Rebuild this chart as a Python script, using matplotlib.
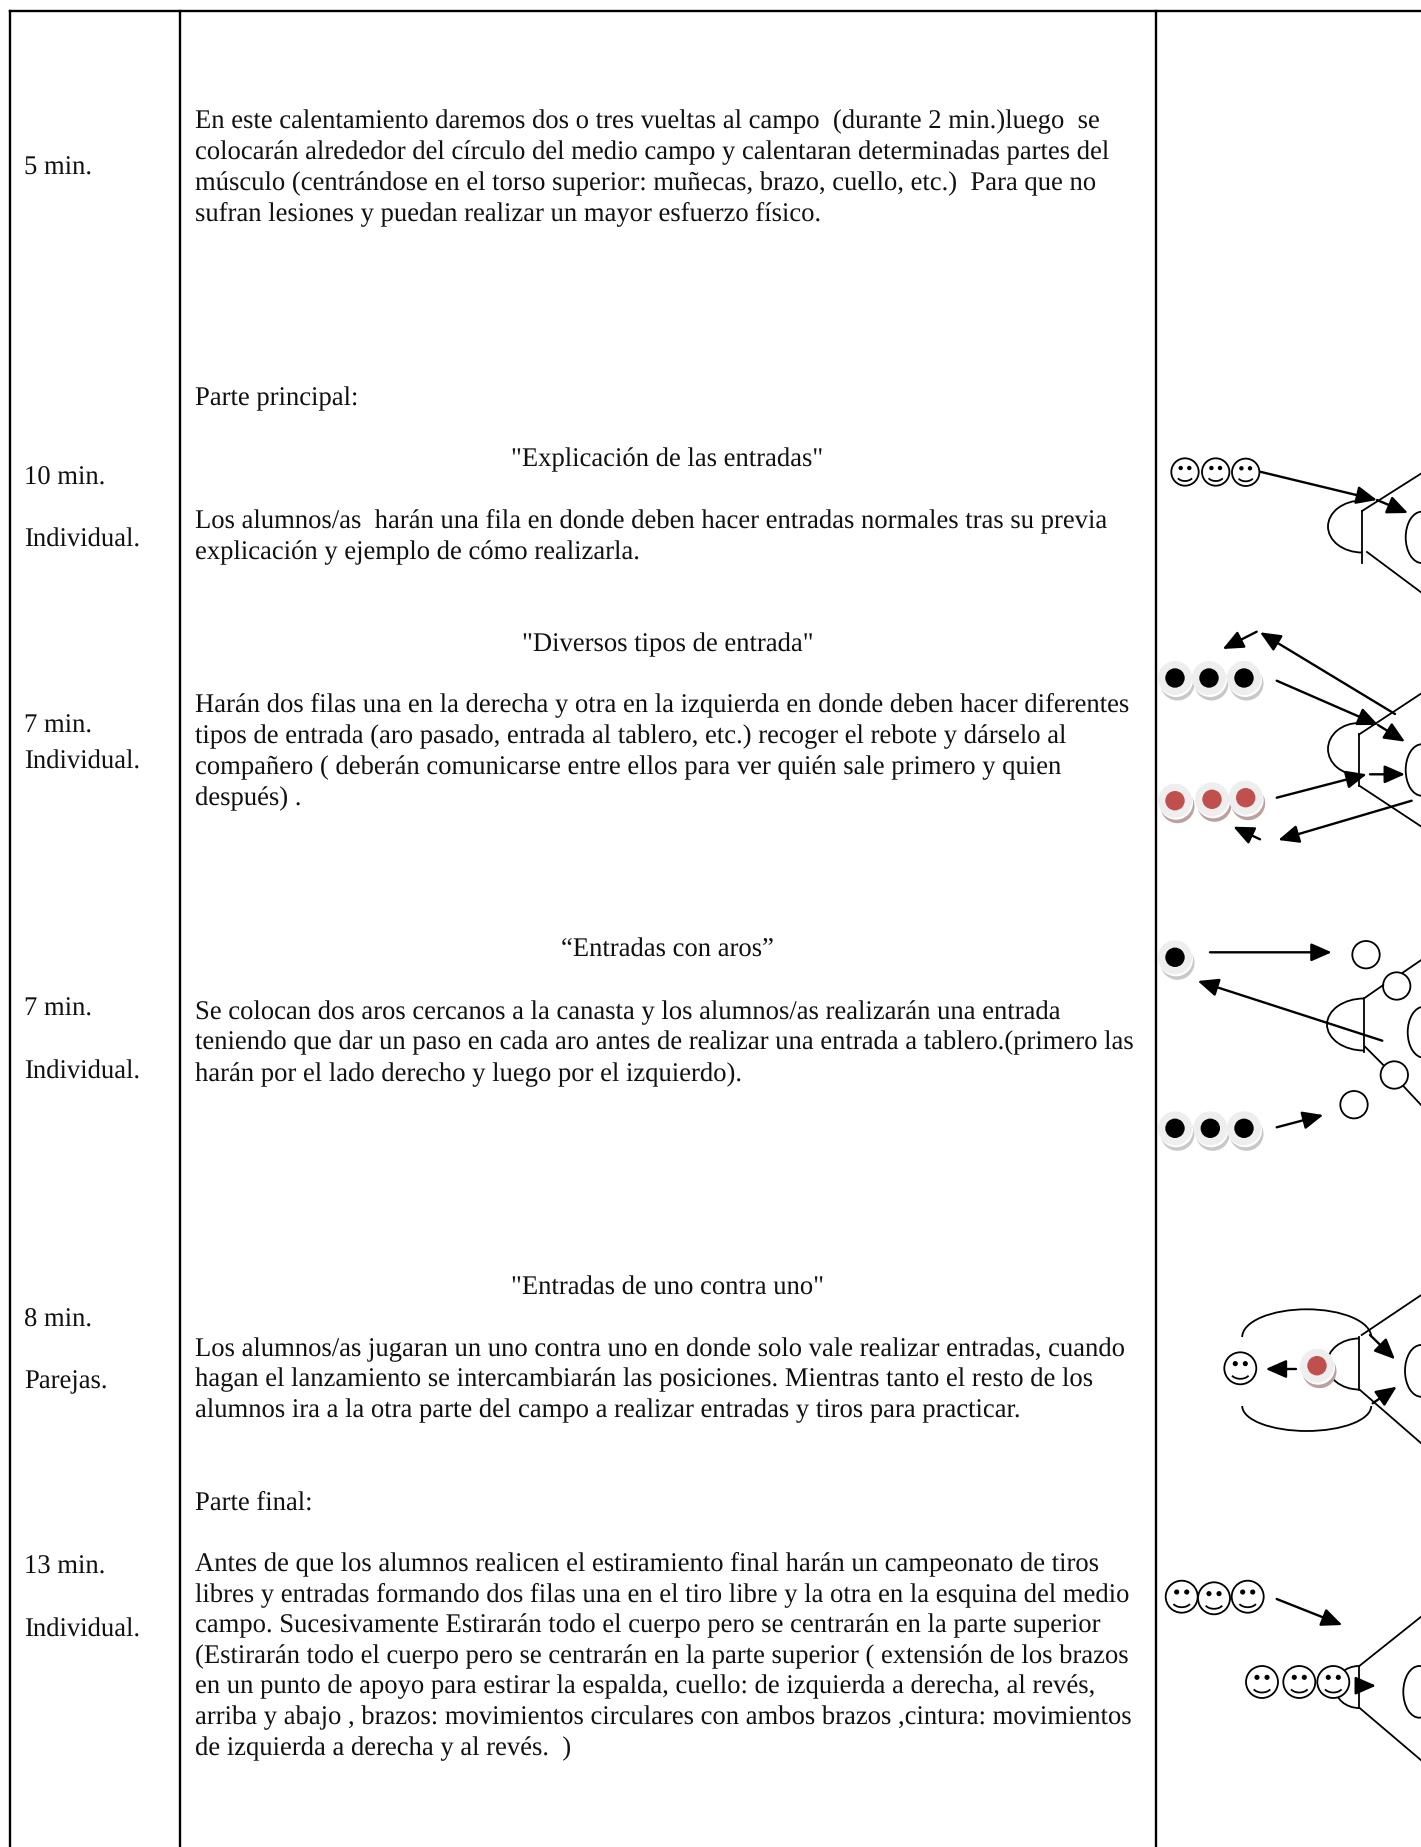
import matplotlib
matplotlib.use('Agg')
import matplotlib.pyplot as plt
from matplotlib.patches import Arc, Circle, Ellipse, FancyArrowPatch

plt.rcParams['text.hinting'] = 'no_hinting'
plt.rcParams['text.hinting_factor'] = 8

W, H = 1421, 1847
FONT = 'Liberation Serif'
FS = 19.2

table_top = 11
table_cols = [10, 180, 1156]

# (baseline y, text)
col1_x = 24
col1_lines = [
    (175, '5 min.'), (485, '10 min.'), (547, 'Individual.'),
    (733, '7 min.'), (769, 'Individual.'), (1016, '7 min.'),
    (1079, 'Individual.'), (1327, '8 min.'), (1388, 'Parejas.'),
    (1574, '13 min.'), (1637, 'Individual.'),
]

col2_x = 195
col2_lines = [
    (128, 'En este calentamiento daremos dos o tres vueltas al campo  (durante 2 min.)luego  se'),
    (158.8, 'colocarán alrededor del círculo del medio campo y calentaran determinadas partes del'),
    (190.2, 'músculo (centrándose en el torso superior: muñecas, brazo, cuello, etc.)  Para que no'),
    (220, 'sufran lesiones y puedan realizar un mayor esfuerzo físico.'),
    (405, 'Parte principal:'),
    (527, 'Los alumnos/as  harán una fila en donde deben hacer entradas normales tras su previa'),
    (559.2, 'explicación y ejemplo de cómo realizarla.'),
    (711.4, 'Harán dos filas una en la derecha y otra en la izquierda en donde deben hacer diferentes'),
    (743, 'tipos de entrada (aro pasado, entrada al tablero, etc.) recoger el rebote y dárselo al'),
    (774, 'compañero ( deberán comunicarse entre ellos para ver quién sale primero y quien'),
    (805.2, 'después) .'),
    (1019, 'Se colocan dos aros cercanos a la canasta y los alumnos/as realizarán una entrada'),
    (1049, 'teniendo que dar un paso en cada aro antes de realizar una entrada a tablero.(primero las'),
    (1081, 'harán por el lado derecho y luego por el izquierdo).'),
    (1356, 'Los alumnos/as jugaran un uno contra uno en donde solo vale realizar entradas, cuando'),
    (1386.5, 'hagan el lanzamiento se intercambiarán las posiciones. Mientras tanto el resto de los'),
    (1417.5, 'alumnos ira a la otra parte del campo a realizar entradas y tiros para practicar.'),
    (1509.5, 'Parte final:'),
    (1570.5, 'Antes de que los alumnos realicen el estiramiento final harán un campeonato de tiros'),
    (1601.5, 'libres y entradas formando dos filas una en el tiro libre y la otra en la esquina del medio'),
    (1632.5, 'campo. Sucesivamente Estirarán todo el cuerpo pero se centrarán en la parte superior'),
    (1663, '(Estirarán todo el cuerpo pero se centrarán en la parte superior ( extensión de los brazos'),
    (1693.5, 'en un punto de apoyo para estirar la espalda, cuello: de izquierda a derecha, al revés,'),
    (1724.5, 'arriba y abajo , brazos: movimientos circulares con ambos brazos ,cintura: movimientos'),
    (1755, 'de izquierda a derecha y al revés.  )'),
]

heading_x = 667.5
headings = [
    (466, '"Explicación de las entradas"'),
    (651, '"Diversos tipos de entrada"'),
    (957, '“Entradas con aros”'),
    (1294.5, '"Entradas de uno contra uno"'),
]

# diagram parts, in picture pixels
smileys = [
    (1185, 472, 13.7), (1215.7, 472, 13.7), (1245.7, 472.3, 13.7),
    (1240.3, 1368.3, 16),
    (1181.7, 1596.7, 16), (1214, 1598.3, 16), (1247.7, 1596.7, 16),
    (1262, 1682, 16), (1299.3, 1682, 16), (1333.3, 1682, 16),
]
black_buttons = [
    (1175, 678), (1209, 678), (1244, 678), (1175, 957.3),
    (1175, 1128.3), (1210.3, 1128.3), (1244, 1128.3),
]
red_buttons = [(1175, 800.7), (1212, 799.3), (1245.7, 797.7), (1317, 1365.7)]
hoops = [
    (1366, 954.7), (1396.7, 986), (1394.3, 1075), (1354, 1104.7),
]
arrows = [
    (1260, 471.7, 1377, 500), (1377, 500, 1408, 513),
    (1256.7, 631.7, 1222.7, 649), (1395, 714, 1260, 632.3),
    (1276.7, 680.7, 1378.3, 725), (1378, 725, 1405, 741.7),
    (1370, 774.3, 1405, 774.3), (1276.7, 797.7, 1366.7, 774.3),
    (1411.7, 800.7, 1278.3, 840), (1260, 839.3, 1233.3, 826.7),
    (1210, 952.3, 1331.7, 952.3), (1382.3, 1040.7, 1197.7, 981),
    (1276.7, 1127.3, 1323.3, 1115),
    (1370, 1335, 1395, 1359.3), (1296, 1369, 1265.7, 1369),
    (1372.7, 1403.3, 1396.7, 1386.7),
    (1276.7, 1599, 1342.3, 1625), (1358, 1685.7, 1376, 1685.7),
]
# court lines: x0, y0, x1, y1
court_lines = [
    (1362, 511, 1362, 563), (1362, 511, 1422, 473), (1367, 552, 1422, 593),
    (1359.3, 734, 1359.3, 785.7), (1359.3, 734.3, 1422, 693), (1359.3, 785.7, 1422, 827),
    (1364, 998.3, 1364, 1051.7), (1365, 997.7, 1383.3, 985), (1402.7, 972.7, 1422, 959.5),
    (1365, 1046.7, 1383.3, 1065), (1403.3, 1086, 1422, 1106),
    (1359.3, 1336.7, 1359.3, 1390), (1361.7, 1335, 1422, 1294.5), (1360, 1390, 1422, 1444),
    (1359.3, 1666, 1359.3, 1707.7), (1359.3, 1666, 1422, 1616), (1359.3, 1707.7, 1422, 1761),
]
# arcs: cx, cy, rx, ry, theta1, theta2 (y grows downwards)
court_arcs = [
    (1362, 526.5, 34, 26, 90, 270),
    (1359, 749, 31, 26, 90, 270),
    (1364, 1024.5, 37, 26, 90, 270),
    (1359, 1364, 32, 25.5, 90, 270),
    (1359, 1687, 24, 21, 90, 270),
    (1306.7, 1337, 64.5, 27.7, 180, 360),
    (1306.7, 1406, 64.5, 25, 0, 180),
]
# baskets: left edge, top, bottom
baskets = [
    (1405.7, 511.7, 563), (1405.7, 744.3, 795.7), (1407.7, 1006.7, 1057.7),
    (1405, 1345, 1396.7), (1403.3, 1666, 1717.7),
]


def draw_smiley(ax, x, y, r):
    k = r / 13.7
    ax.add_patch(Circle((x, y), r, fc='white', ec='black', lw=1.3, zorder=5))
    for dx in (-4.3, 4.3):
        ax.add_patch(Circle((x + dx * k, y - 4 * k), 2.2 * k, fc='black', ec='none', zorder=6))
    ax.add_patch(Arc((x, y + 3 * k), 17 * k, 12 * k, theta1=25, theta2=155,
                     ec='black', lw=1.3, zorder=6))


def draw_button(ax, x, y, color, shadow):
    ax.add_patch(Circle((x + 2.5, y + 5.5), 17, fc=shadow, ec='none', zorder=5))
    ax.add_patch(Circle((x + 1, y + 2), 17, fc='white', ec='none', zorder=5))
    ax.add_patch(Circle((x, y), 17, fc='#eeeeee', ec='none', zorder=5))
    ax.add_patch(Circle((x, y), 9.7, fc=color, ec='none', zorder=6))


fig = plt.figure(figsize=(W / 100, H / 100), dpi=100)
ax = fig.add_axes([0, 0, 1, 1])
ax.set_xlim(0, W)
ax.set_ylim(H, 0)
ax.axis('off')

ax.plot([table_cols[0], W], [table_top, table_top], color='black', lw=1.7)
for x in table_cols:
    ax.plot([x, x], [table_top, H], color='black', lw=1.7)

for y, s in col1_lines:
    ax.text(col1_x, y, s, family=FONT, fontsize=FS, va='baseline', color='#111111')
for y, s in col2_lines:
    ax.text(col2_x, y, s, family=FONT, fontsize=FS, va='baseline', color='#111111')
for y, s in headings:
    ax.text(heading_x, y, s, family=FONT, fontsize=FS, va='baseline', ha='center', color='#111111')

for x0, y0, x1, y1 in court_lines:
    ax.plot([x0, x1], [y0, y1], color='black', lw=1.3, zorder=2)
for cx, cy, rx, ry, t1, t2 in court_arcs:
    ax.add_patch(Arc((cx, cy), rx * 2, ry * 2, theta1=t1, theta2=t2, ec='black', lw=1.3, zorder=2))
for left, top, bottom in baskets:
    ry = (bottom - top) / 2
    ax.add_patch(Ellipse((left + 16, top + ry), 32, ry * 2, fc='none', ec='black', lw=1.3, zorder=2))
for x, y in hoops:
    ax.add_patch(Circle((x, y), 13.7, fc='none', ec='black', lw=1.3, zorder=2))

for x0, y0, x1, y1 in arrows:
    ax.add_patch(FancyArrowPatch((x0, y0), (x1, y1), arrowstyle='-|>,head_length=1.25,head_width=0.55',
                                 mutation_scale=10, shrinkA=0, shrinkB=0, color='black', lw=1.7, zorder=4))

for x, y in black_buttons:
    draw_button(ax, x, y, 'black', '#c8c8c8')
for x, y in red_buttons:
    draw_button(ax, x, y, '#c0504d', '#bfa0a0')
for x, y, r in smileys:
    draw_smiley(ax, x, y, r)

fig.savefig('out.png', dpi=100)
